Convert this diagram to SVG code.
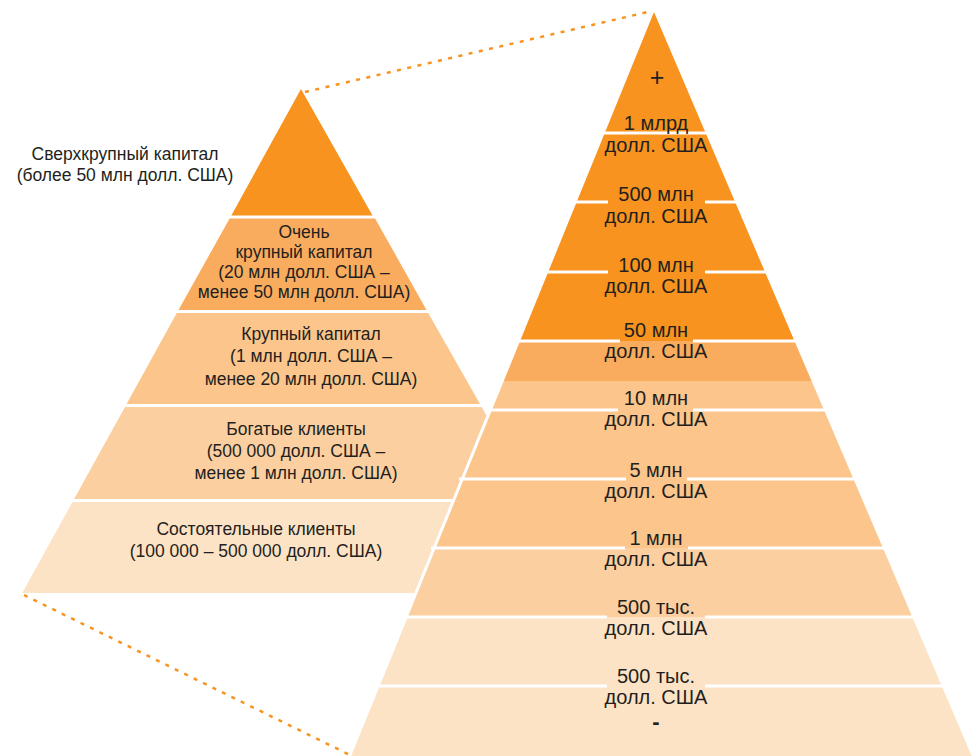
<svg xmlns="http://www.w3.org/2000/svg" width="975" height="756" viewBox="0 0 975 756">
  <style>
    .t { font-family: "Liberation Sans", Arial, sans-serif; fill: #231F20; text-anchor: middle; }
    .l { font-size: 17.5px; }
    .r { font-size: 20px; }
    .c1 { fill: #F7931E; }
    .c2 { fill: #F9AC5E; }
    .c3 { fill: #FBC58B; }
    .c4 { fill: #FCCFA0; }
    .c5 { fill: #FDE3C6; }
    .sep { stroke: #FFFFFF; stroke-width: 3; fill: none; }
    .dots { stroke: #F7931E; stroke-width: 2.5; stroke-dasharray: 4 6.5; fill: none; }
  </style>

  <rect width="975" height="756" fill="#FFFFFF"/>

  <!-- zoom connectors between the two pyramids -->
  <g id="connectors">
    <line class="dots" x1="305" y1="92" x2="652" y2="11"/>
    <line class="dots" x1="24" y1="595" x2="350" y2="755"/>
  </g>

  <!-- left pyramid: wealth segments -->
  <g id="left-pyramid">
    <g id="segment-ultra">
      <polygon class="c1" points="301,89 231.3,215.5 372.5,215.5"/>
      <text class="t l" x="125" y="160">Сверхкрупный капитал</text>
      <text class="t l" x="125" y="181">(более 50 млн долл. США)</text>
    </g>
    <g id="segment-very-large">
      <polygon class="c2" points="229.6,218.5 375.1,218.5 426.5,310 178.5,310"/>
      <text class="t l" x="304" y="238">Очень</text>
      <text class="t l" x="304" y="258">крупный капитал</text>
      <text class="t l" x="304" y="278">(20 млн долл. США –</text>
      <text class="t l" x="304" y="298">менее 50 млн долл. США)</text>
    </g>
    <g id="segment-large">
      <polygon class="c3" points="176.8,313 428.2,313 480,404 126.6,404"/>
      <text class="t l" x="311" y="340">Крупный капитал</text>
      <text class="t l" x="311" y="362">(1 млн долл. США –</text>
      <text class="t l" x="311" y="385">менее 20 млн долл. США)</text>
    </g>
    <g id="segment-rich">
      <polygon class="c4" points="125,407 481.7,407 534,499 74.1,499"/>
      <text class="t l" x="296" y="435">Богатые клиенты</text>
      <text class="t l" x="296" y="457">(500 000 долл. США –</text>
      <text class="t l" x="296" y="479">менее 1 млн долл. США)</text>
    </g>
    <g id="segment-affluent">
      <polygon class="c5" points="72.4,502 535.7,502 587.4,593 22.2,593"/>
      <text class="t l" x="256" y="535">Состоятельные клиенты</text>
      <text class="t l" x="256" y="557">(100 000 – 500 000 долл. США)</text>
    </g>
  </g>

  <!-- right pyramid: detailed wealth scale -->
  <g id="right-pyramid">
    <polygon points="654,12 351.2,756 971.7,756" fill="#FFFFFF" stroke="#FFFFFF" stroke-width="6" stroke-linejoin="miter"/>
    <polygon class="c1" points="654,12 520.1,341 794.5,341"/>
    <polygon class="c2" points="520.1,341 794.5,341 811.6,381 503.8,381"/>
    <polygon class="c3" points="503.8,381 811.6,381 882.9,548 435.8,548"/>
    <polygon class="c4" points="435.8,548 882.9,548 912.3,617 407.8,617"/>
    <polygon class="c5" points="407.8,617 912.3,617 971.7,756 351.2,756"/>

    <!-- level separators, broken behind the value labels -->
    <g id="separators">
      <line class="sep" x1="600" y1="133" x2="710" y2="133"/>
      <line class="sep" x1="572" y1="202" x2="608" y2="202"/>
      <line class="sep" x1="705" y1="202" x2="740" y2="202"/>
      <line class="sep" x1="544" y1="272" x2="608" y2="272"/>
      <line class="sep" x1="705" y1="272" x2="770" y2="272"/>
      <line class="sep" x1="515" y1="341" x2="620" y2="341"/>
      <line class="sep" x1="693" y1="341" x2="800" y2="341"/>
      <line class="sep" x1="487" y1="410" x2="618" y2="410"/>
      <line class="sep" x1="693" y1="410" x2="829" y2="410"/>
      <line class="sep" x1="459" y1="479" x2="626" y2="479"/>
      <line class="sep" x1="687" y1="479" x2="858" y2="479"/>
      <line class="sep" x1="431" y1="548" x2="625" y2="548"/>
      <line class="sep" x1="688" y1="548" x2="888" y2="548"/>
      <line class="sep" x1="403" y1="617" x2="607" y2="617"/>
      <line class="sep" x1="705" y1="617" x2="917" y2="617"/>
      <line class="sep" x1="375" y1="686" x2="607" y2="686"/>
      <line class="sep" x1="705" y1="686" x2="947" y2="686"/>
    </g>

    <g id="level-labels">
      <text class="t" x="657" y="86" style="font-size:25px">+</text>
      <text class="t r" x="656" y="129.5">1 млрд</text>
      <text class="t r" x="656" y="152">долл. США</text>
      <text class="t r" x="656" y="201">500 млн</text>
      <text class="t r" x="656" y="223">долл. США</text>
      <text class="t r" x="656" y="272">100 млн</text>
      <text class="t r" x="656" y="293">долл. США</text>
      <text class="t r" x="656" y="337">50 млн</text>
      <text class="t r" x="656" y="358">долл. США</text>
      <text class="t r" x="656" y="405">10 млн</text>
      <text class="t r" x="656" y="426">долл. США</text>
      <text class="t r" x="656" y="477">5 млн</text>
      <text class="t r" x="656" y="498">долл. США</text>
      <text class="t r" x="656" y="545">1 млн</text>
      <text class="t r" x="656" y="566">долл. США</text>
      <text class="t r" x="656" y="614">500 тыс.</text>
      <text class="t r" x="656" y="635">долл. США</text>
      <text class="t r" x="656" y="683">500 тыс.</text>
      <text class="t r" x="656" y="704">долл. США</text>
      <text class="t" x="656" y="729" style="font-size:22px;font-weight:bold">-</text>
    </g>
  </g>
</svg>
